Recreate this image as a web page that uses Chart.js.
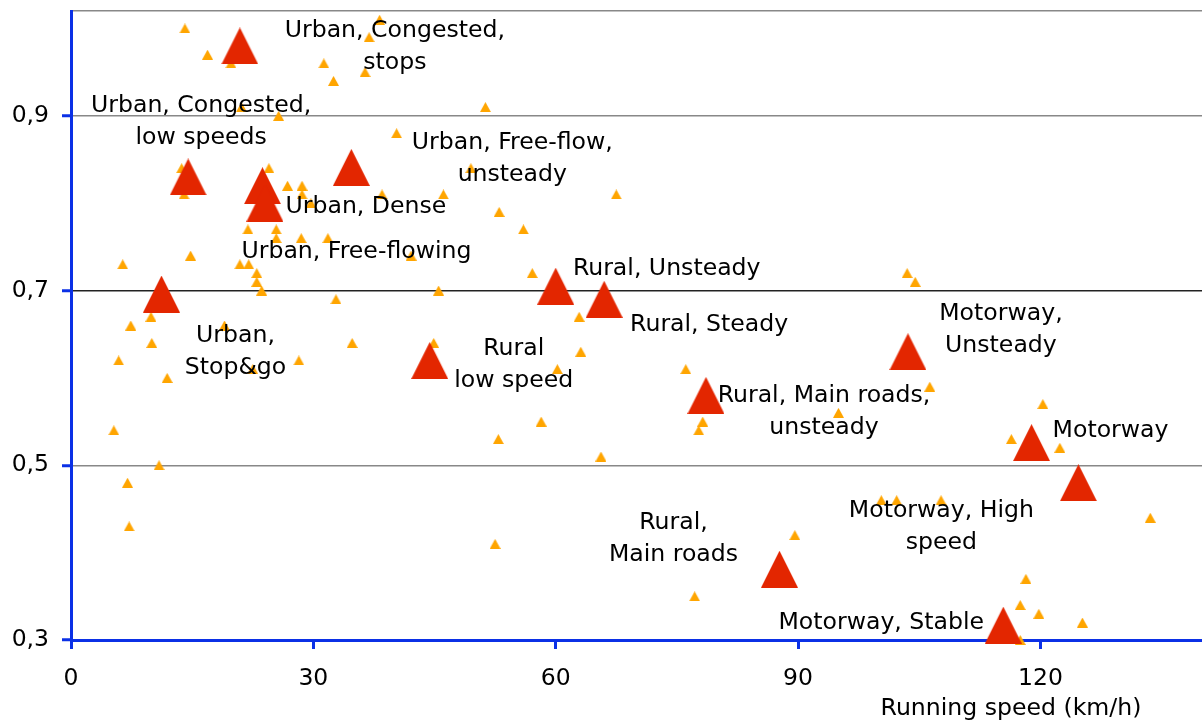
<!DOCTYPE html>
<html>
<head>
<meta charset="utf-8">
<script src="https://cdn.jsdelivr.net/npm/chart.js@4.4.1/dist/chart.umd.min.js"></script>
<style>
  body { margin: 0; background: #fff; }
  #wrap { width: 1202px; height: 722px; position: relative; }
</style>
</head>
<body>
<div id="wrap"><canvas id="SpeedChart"></canvas></div>
<script>
// measured points (running speed km/h, ratio)
var measuredSpeed = [14.1, 16.9, 19.8, 38.2, 36.9, 31.3, 32.5, 36.4, 21.1, 25.7, 40.3, 51.3, 49.5, 46.1, 67.5, 53.0, 56.0,
    24.5, 13.7, 14.0, 26.8, 28.6, 28.6, 29.7, 38.5, 21.9, 25.4, 25.4, 28.5, 31.8, 14.8, 6.4, 20.9, 22.0, 23.0, 23.0, 23.6,
    32.8, 9.9, 7.4, 19.0, 10.0, 34.8, 5.9, 28.2, 22.5, 11.9, 5.3, 10.9, 7.0, 7.2, 42.1, 57.1, 45.5, 62.9, 44.9, 63.1, 60.2,
    76.1, 78.2, 77.7, 58.2, 52.9, 65.6, 103.5, 104.5, 106.3, 95.0, 120.3, 116.4, 122.4, 52.5, 77.2, 89.6, 100.3, 102.2,
    107.7, 133.6, 118.2, 117.5, 119.8, 125.2, 117.5];
var measuredRatio = [1.00, 0.97, 0.96, 1.01, 0.99, 0.96, 0.94, 0.95, 0.91, 0.90, 0.88, 0.91, 0.84, 0.81, 0.81, 0.79, 0.77,
    0.84, 0.84, 0.81, 0.82, 0.82, 0.81, 0.80, 0.81, 0.77, 0.77, 0.76, 0.76, 0.76, 0.74, 0.73, 0.73, 0.73, 0.72, 0.71, 0.70,
    0.69, 0.67, 0.66, 0.66, 0.64, 0.64, 0.62, 0.62, 0.61, 0.60, 0.54, 0.50, 0.48, 0.43, 0.74, 0.72, 0.70, 0.67, 0.64, 0.63, 0.61,
    0.61, 0.55, 0.54, 0.55, 0.53, 0.51, 0.72, 0.71, 0.59, 0.56, 0.57, 0.53, 0.52, 0.41, 0.35, 0.42, 0.46, 0.46,
    0.46, 0.44, 0.37, 0.34, 0.33, 0.32, 0.30];

// driving pattern averages
var patternSpeed = [20.9, 14.5, 23.7, 24.0, 34.7, 11.2, 60.0, 66.0, 44.4, 78.6, 103.6, 118.9, 124.7, 87.7, 115.4];
var patternRatio = [0.98, 0.83, 0.82, 0.80, 0.841, 0.696, 0.705, 0.69, 0.62, 0.58, 0.63, 0.526, 0.48, 0.381, 0.317];
var patternNames = [
    "Urban, Congested,\nstops",
    "Urban, Congested,\nlow speeds",
    "Urban, Free-flowing",
    "Urban, Dense",
    "Urban, Free-flow,\nunsteady",
    "Urban,\nStop&go",
    "Rural, Unsteady",
    "Rural, Steady",
    "Rural\nlow speed",
    "Rural, Main roads,\nunsteady",
    "Motorway,\nUnsteady",
    "Motorway",
    "Motorway, High\nspeed",
    "Rural,\nMain roads",
    "Motorway, Stable"
];

var xTicks = [0, 30, 60, 90, 120];
var yTicks = [0.3, 0.5, 0.7, 0.9];
var xTitle = "Running speed (km/h)";

// label placement (pixels from the marker)
var labelOffsets = [[155, 1], [13, -55], [94, 66], [101, 4], [161, -9], [74, 58], [111, -17], [105, 26],
    [84, 4], [118, 16], [93, -22], [79, -12], [-137, 44], [-106, -30], [-122, -2]];

var BLUE = '#0b30e6';
var FONT = "'DejaVu Sans', sans-serif";

function triangleImage(w, h, color) {
    var c = document.createElement('canvas');
    c.width = w;
    c.height = h;
    var g = c.getContext('2d');
    g.fillStyle = color;
    g.beginPath();
    g.moveTo(w / 2, 0);
    g.lineTo(w, h);
    g.lineTo(0, h);
    g.closePath();
    g.fill();
    return c;
}

function pairs(xs, ys) {
    return xs.map(function(x, i) { return { x: x, y: ys[i] }; });
}

var labelPlugin = {
    id: 'patternLabels',
    afterDatasetsDraw: function(chart) {
        var ctx = chart.ctx;
        var meta = chart.getDatasetMeta(0);
        ctx.save();
        ctx.fillStyle = '#000';
        ctx.font = "23.6px " + FONT;
        ctx.textAlign = 'center';
        ctx.textBaseline = 'middle';
        meta.data.forEach(function(pt, i) {
            var lines = patternNames[i].split('\n');
            var cx = pt.x + labelOffsets[i][0];
            var cy = pt.y + labelOffsets[i][1] - (lines.length - 1) * 16;
            lines.forEach(function(line, k) {
                ctx.fillText(line, cx, cy + k * 32);
            });
        });
        // axis title
        var area = chart.chartArea;
        ctx.fillText(xTitle, area.right - 191, area.bottom + 69);
        ctx.restore();
    }
};

new Chart(document.getElementById('SpeedChart'), {
    type: 'scatter',
    data: {
        datasets: [{
            label: 'Driving patterns',
            data: pairs(patternSpeed, patternRatio),
            pointStyle: triangleImage(37, 37, '#e32600'),
            pointRadius: 19,
            order: 0,
            clip: false
        }, {
            label: 'Measurements',
            data: pairs(measuredSpeed, measuredRatio),
            pointStyle: triangleImage(11, 10, '#ffa500'),
            pointRadius: 6,
            order: 1,
            clip: false
        }]
    },
    options: {
        responsive: true,
        maintainAspectRatio: false,
        animation: false,
        events: [],
        layout: { autoPadding: false, padding: { top: 11, left: 0, right: 0, bottom: 0 } },
        plugins: {
            legend: { display: false },
            tooltip: { enabled: false }
        },
        scales: {
            x: {
                type: 'linear',
                min: 0,
                max: 140,
                afterBuildTicks: function(scale) {
                    scale.ticks = xTicks.map(function(v) { return { value: v }; });
                },
                afterFit: function(scale) {
                    scale.height = 82;
                    scale.paddingLeft = 0;
                    scale.paddingRight = 0;
                },
                ticks: {
                    color: '#000',
                    font: { family: FONT, size: 23.5 },
                    padding: 16,
                    maxRotation: 0
                },
                grid: {
                    drawOnChartArea: false,
                    tickLength: 9,
                    tickWidth: 3,
                    tickColor: BLUE
                },
                border: { color: BLUE, width: 3 }
            },
            y: {
                type: 'linear',
                min: 0.3,
                max: 1.02,
                afterBuildTicks: function(scale) {
                    scale.ticks = yTicks.concat([1.02]).map(function(v) { return { value: v }; });
                },
                afterFit: function(scale) {
                    scale.width = 71;
                    scale.paddingTop = 0;
                    scale.paddingBottom = 0;
                },
                ticks: {
                    color: '#000',
                    font: { family: FONT, size: 23.5 },
                    padding: 13,
                    callback: function(v) {
                        return v > 1 ? '' : v.toFixed(1).replace('.', ',');
                    }
                },
                grid: {
                    drawOnChartArea: true,
                    lineWidth: 1.5,
                    color: function(c) {
                        if (!c.tick) return '#888';
                        return Math.abs(c.tick.value - 0.7) < 1e-6 ? '#222' : '#888';
                    },
                    tickLength: 9,
                    tickWidth: 3,
                    tickColor: function(c) {
                        return c.tick && c.tick.value > 1 ? 'rgba(0,0,0,0)' : BLUE;
                    }
                },
                border: { color: BLUE, width: 3 }
            }
        }
    },
    plugins: [labelPlugin]
});
</script>
</body>
</html>
